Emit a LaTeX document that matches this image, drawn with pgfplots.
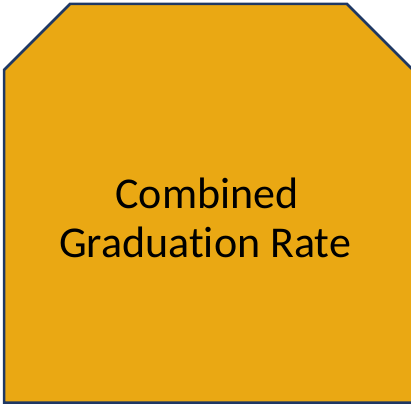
\documentclass[border=0pt]{standalone}
\usepackage{pgfplots}
\pgfplotsset{compat=1.18}
\usepackage{fontspec}
\setmainfont{Carlito}[Ligatures=NoCommon]
\definecolor{gold}{RGB}{234,168,19}
\definecolor{navy}{RGB}{31,56,100}
\begin{document}
\begin{tikzpicture}
\begin{axis}[
  name=ax,
  width=411bp, height=404bp, scale only axis,
  xmin=0, xmax=411, ymin=0, ymax=404, y dir=reverse,
  hide axis, clip=true,
]
\addplot[fill=gold, draw=navy, line width=2.5bp, line join=miter] coordinates {
  (4,70) (70,4) (347,4) (413,70) (413,402.5) (4,402.5)
} -- cycle;
\node[anchor=base, font=\fontsize{44bp}{52bp}\selectfont, inner sep=0pt] at (axis cs:207,208) {Combined};
\node[anchor=base, font=\fontsize{44bp}{52bp}\selectfont, inner sep=0pt] at (axis cs:205,257) {Graduation Rate};
\end{axis}
\pgfresetboundingbox
\path (ax.south west) rectangle (ax.north east);
\end{tikzpicture}
\end{document}
